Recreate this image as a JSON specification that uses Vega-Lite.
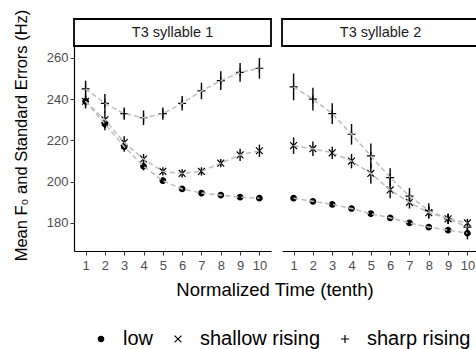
{
  "$schema": "https://vega.github.io/schema/vega-lite/v6.json",
  "padding": {"left": 13, "top": 9, "right": 0, "bottom": 0},
  "background": "white",
  "title": {"text": "Normalized Time (tenth)", "orient": "bottom", "anchor": "middle", "frame": "group", "fontSize": 18.5, "fontWeight": "normal", "color": "black", "offset": 4, "dx": 201, "dy": -72},
  "datasets": {
    "f0": [
      {"panel": "T3 syllable 1", "t": 1, "tone": "low", "mean": 239, "se": 2.5},
      {"panel": "T3 syllable 1", "t": 2, "tone": "low", "mean": 228, "se": 3},
      {"panel": "T3 syllable 1", "t": 3, "tone": "low", "mean": 217, "se": 2.5},
      {"panel": "T3 syllable 1", "t": 4, "tone": "low", "mean": 207.5, "se": 2},
      {"panel": "T3 syllable 1", "t": 5, "tone": "low", "mean": 200.5, "se": 1.5},
      {"panel": "T3 syllable 1", "t": 6, "tone": "low", "mean": 196.5, "se": 1.2},
      {"panel": "T3 syllable 1", "t": 7, "tone": "low", "mean": 194.5, "se": 1},
      {"panel": "T3 syllable 1", "t": 8, "tone": "low", "mean": 193.5, "se": 1},
      {"panel": "T3 syllable 1", "t": 9, "tone": "low", "mean": 192.5, "se": 1},
      {"panel": "T3 syllable 1", "t": 10, "tone": "low", "mean": 192, "se": 1},
      {"panel": "T3 syllable 1", "t": 1, "tone": "shallow rising", "mean": 239, "se": 3.5},
      {"panel": "T3 syllable 1", "t": 2, "tone": "shallow rising", "mean": 230, "se": 4},
      {"panel": "T3 syllable 1", "t": 3, "tone": "shallow rising", "mean": 219, "se": 3},
      {"panel": "T3 syllable 1", "t": 4, "tone": "shallow rising", "mean": 211, "se": 2.5},
      {"panel": "T3 syllable 1", "t": 5, "tone": "shallow rising", "mean": 205, "se": 2},
      {"panel": "T3 syllable 1", "t": 6, "tone": "shallow rising", "mean": 204, "se": 2},
      {"panel": "T3 syllable 1", "t": 7, "tone": "shallow rising", "mean": 205, "se": 2},
      {"panel": "T3 syllable 1", "t": 8, "tone": "shallow rising", "mean": 209, "se": 2},
      {"panel": "T3 syllable 1", "t": 9, "tone": "shallow rising", "mean": 213, "se": 3},
      {"panel": "T3 syllable 1", "t": 10, "tone": "shallow rising", "mean": 215, "se": 3},
      {"panel": "T3 syllable 1", "t": 1, "tone": "sharp rising", "mean": 245, "se": 4},
      {"panel": "T3 syllable 1", "t": 2, "tone": "sharp rising", "mean": 238, "se": 4.5},
      {"panel": "T3 syllable 1", "t": 3, "tone": "sharp rising", "mean": 233, "se": 3},
      {"panel": "T3 syllable 1", "t": 4, "tone": "sharp rising", "mean": 231, "se": 3.5},
      {"panel": "T3 syllable 1", "t": 5, "tone": "sharp rising", "mean": 233, "se": 3},
      {"panel": "T3 syllable 1", "t": 6, "tone": "sharp rising", "mean": 238, "se": 3.5},
      {"panel": "T3 syllable 1", "t": 7, "tone": "sharp rising", "mean": 244, "se": 4},
      {"panel": "T3 syllable 1", "t": 8, "tone": "sharp rising", "mean": 249, "se": 4.5},
      {"panel": "T3 syllable 1", "t": 9, "tone": "sharp rising", "mean": 253, "se": 4.5},
      {"panel": "T3 syllable 1", "t": 10, "tone": "sharp rising", "mean": 255, "se": 5},
      {"panel": "T3 syllable 2", "t": 1, "tone": "low", "mean": 192, "se": 1},
      {"panel": "T3 syllable 2", "t": 2, "tone": "low", "mean": 190.5, "se": 1},
      {"panel": "T3 syllable 2", "t": 3, "tone": "low", "mean": 189, "se": 1},
      {"panel": "T3 syllable 2", "t": 4, "tone": "low", "mean": 187, "se": 1},
      {"panel": "T3 syllable 2", "t": 5, "tone": "low", "mean": 184.5, "se": 1},
      {"panel": "T3 syllable 2", "t": 6, "tone": "low", "mean": 182.5, "se": 1},
      {"panel": "T3 syllable 2", "t": 7, "tone": "low", "mean": 180, "se": 1},
      {"panel": "T3 syllable 2", "t": 8, "tone": "low", "mean": 178, "se": 1},
      {"panel": "T3 syllable 2", "t": 9, "tone": "low", "mean": 176.5, "se": 1.5},
      {"panel": "T3 syllable 2", "t": 10, "tone": "low", "mean": 175, "se": 3},
      {"panel": "T3 syllable 2", "t": 1, "tone": "shallow rising", "mean": 217.5, "se": 4},
      {"panel": "T3 syllable 2", "t": 2, "tone": "shallow rising", "mean": 216, "se": 3.5},
      {"panel": "T3 syllable 2", "t": 3, "tone": "shallow rising", "mean": 214, "se": 3},
      {"panel": "T3 syllable 2", "t": 4, "tone": "shallow rising", "mean": 210, "se": 3.5},
      {"panel": "T3 syllable 2", "t": 5, "tone": "shallow rising", "mean": 204, "se": 5},
      {"panel": "T3 syllable 2", "t": 6, "tone": "shallow rising", "mean": 196, "se": 4},
      {"panel": "T3 syllable 2", "t": 7, "tone": "shallow rising", "mean": 190, "se": 3},
      {"panel": "T3 syllable 2", "t": 8, "tone": "shallow rising", "mean": 185, "se": 3},
      {"panel": "T3 syllable 2", "t": 9, "tone": "shallow rising", "mean": 182, "se": 2.5},
      {"panel": "T3 syllable 2", "t": 10, "tone": "shallow rising", "mean": 180, "se": 2},
      {"panel": "T3 syllable 2", "t": 1, "tone": "sharp rising", "mean": 246, "se": 6.5},
      {"panel": "T3 syllable 2", "t": 2, "tone": "sharp rising", "mean": 240, "se": 5.5},
      {"panel": "T3 syllable 2", "t": 3, "tone": "sharp rising", "mean": 233, "se": 5},
      {"panel": "T3 syllable 2", "t": 4, "tone": "sharp rising", "mean": 223, "se": 5},
      {"panel": "T3 syllable 2", "t": 5, "tone": "sharp rising", "mean": 212.5, "se": 6},
      {"panel": "T3 syllable 2", "t": 6, "tone": "sharp rising", "mean": 202, "se": 4.5},
      {"panel": "T3 syllable 2", "t": 7, "tone": "sharp rising", "mean": 193, "se": 4},
      {"panel": "T3 syllable 2", "t": 8, "tone": "sharp rising", "mean": 186, "se": 3.5},
      {"panel": "T3 syllable 2", "t": 9, "tone": "sharp rising", "mean": 182, "se": 2.5},
      {"panel": "T3 syllable 2", "t": 10, "tone": "sharp rising", "mean": 178, "se": 2}
    ]
  },
  "hconcat": [
    {
      "spacing": 0,
      "bounds": "flush",
      "vconcat": [
        {
          "width": 197, "height": 27,
          "view": {"stroke": "black", "strokeWidth": 1.8, "fill": "white"},
          "data": {"values": [{"label": "T3 syllable 1"}]},
          "mark": {"type": "text", "fontSize": 14.5, "color": "#1a1a1a", "baseline": "middle"},
          "encoding": {"text": {"field": "label"}}
        },
        {
          "width": 197, "height": 205,
          "data": {"name": "f0"},
          "transform": [{"filter": {"field": "panel", "equal": "T3 syllable 1"}}],
          "encoding": {
            "x": {"field": "t", "type": "quantitative",
                  "scale": {"domain": [0.4, 10.6], "nice": false, "zero": false},
                  "axis": {"values": [1,2,3,4,5,6,7,8,9,10], "title": null}},
            "y": {"field": "mean", "type": "quantitative",
                  "scale": {"domain": [166.4, 265.8], "nice": false, "zero": false},
                  "axis": {"values": [180, 200, 220, 240, 260], "title": "Mean F₀ and Standard Errors (Hz)", "titleY": 89}}
          },
          "layer": [
            {"mark": {"type": "errorbar", "ticks": false, "color": "black", "thickness": 1.4},
             "encoding": {"yError": {"field": "se"}}},
            {"mark": {"type": "point", "filled": true, "fill": "black", "stroke": "black", "strokeWidth": 1.2, "opacity": 1},
             "encoding": {
               "shape": {"field": "tone", "type": "nominal",
                         "scale": {"domain": ["low", "shallow rising", "sharp rising"], "range": ["circle", "M-1,-1L1,1M1,-1L-1,1", "M-1,0L1,0M0,-1L0,1"]},
                         "legend": {"title": null}},
               "size": {"field": "tone", "type": "nominal",
                        "scale": {"domain": ["low", "shallow rising", "sharp rising"], "range": [30, 64, 130]},
                        "legend": {"title": null}}
             }},
            {"mark": {"type": "line", "color": "#bdbdbd", "strokeDash": [5, 3], "strokeWidth": 1.5},
             "encoding": {"detail": {"field": "tone"}}}
          ]
        }
      ]
    },
    {
      "spacing": 0,
      "bounds": "flush",
      "vconcat": [
        {
          "width": 197, "height": 27,
          "view": {"stroke": "black", "strokeWidth": 1.8, "fill": "white"},
          "data": {"values": [{"label": "T3 syllable 2"}]},
          "mark": {"type": "text", "fontSize": 14.5, "color": "#1a1a1a", "baseline": "middle"},
          "encoding": {"text": {"field": "label"}}
        },
        {
          "width": 197, "height": 205,
          "data": {"name": "f0"},
          "transform": [{"filter": {"field": "panel", "equal": "T3 syllable 2"}}],
          "encoding": {
            "x": {"field": "t", "type": "quantitative",
                  "scale": {"domain": [0.4, 10.6], "nice": false, "zero": false},
                  "axis": {"values": [1,2,3,4,5,6,7,8,9,10], "title": null}},
            "y": {"field": "mean", "type": "quantitative",
                  "scale": {"domain": [166.4, 265.8], "nice": false, "zero": false},
                  "axis": null}
          },
          "layer": [
            {"mark": {"type": "errorbar", "ticks": false, "color": "black", "thickness": 1.4},
             "encoding": {"yError": {"field": "se"}}},
            {"mark": {"type": "point", "filled": true, "fill": "black", "stroke": "black", "strokeWidth": 1.2, "opacity": 1},
             "encoding": {
               "shape": {"field": "tone", "type": "nominal",
                         "scale": {"domain": ["low", "shallow rising", "sharp rising"], "range": ["circle", "M-1,-1L1,1M1,-1L-1,1", "M-1,0L1,0M0,-1L0,1"]},
                         "legend": {"title": null}},
               "size": {"field": "tone", "type": "nominal",
                        "scale": {"domain": ["low", "shallow rising", "sharp rising"], "range": [30, 64, 130]},
                        "legend": {"title": null}}
             }},
            {"mark": {"type": "line", "color": "#bdbdbd", "strokeDash": [5, 3], "strokeWidth": 1.5},
             "encoding": {"detail": {"field": "tone"}}}
          ]
        }
      ]
    }
  ],
  "spacing": 9,
  "resolve": {"scale": {"x": "independent", "y": "independent", "shape": "shared", "size": "shared"}, "legend": {"shape": "shared", "size": "shared"}},
  "config": {
    "font": "Liberation Sans",
    "view": {"stroke": null},
    "axis": {
      "grid": false,
      "domainColor": "black",
      "domainWidth": 1.2,
      "tickColor": "#333333",
      "tickSize": 4,
      "tickWidth": 1,
      "labelFontSize": 13,
      "labelColor": "#4d4d4d",
      "labelPadding": 2,
      "titleFontSize": 16.5,
      "titleFontWeight": "normal",
      "titleColor": "black"
    },
    "axisX": {"labelFlush": false, "labelPadding": 4},
    "axisY": {"titlePadding": 17},
    "legend": {
      "orient": "none",
      "legendX": 17,
      "legendY": 310,
      "direction": "horizontal",
      "labelFontSize": 20,
      "labelColor": "black",
      "symbolStrokeWidth": 1.2,
      "columnPadding": 14,
      "labelOffset": 12,
      "symbolOpacity": 1
    }
  }
}
